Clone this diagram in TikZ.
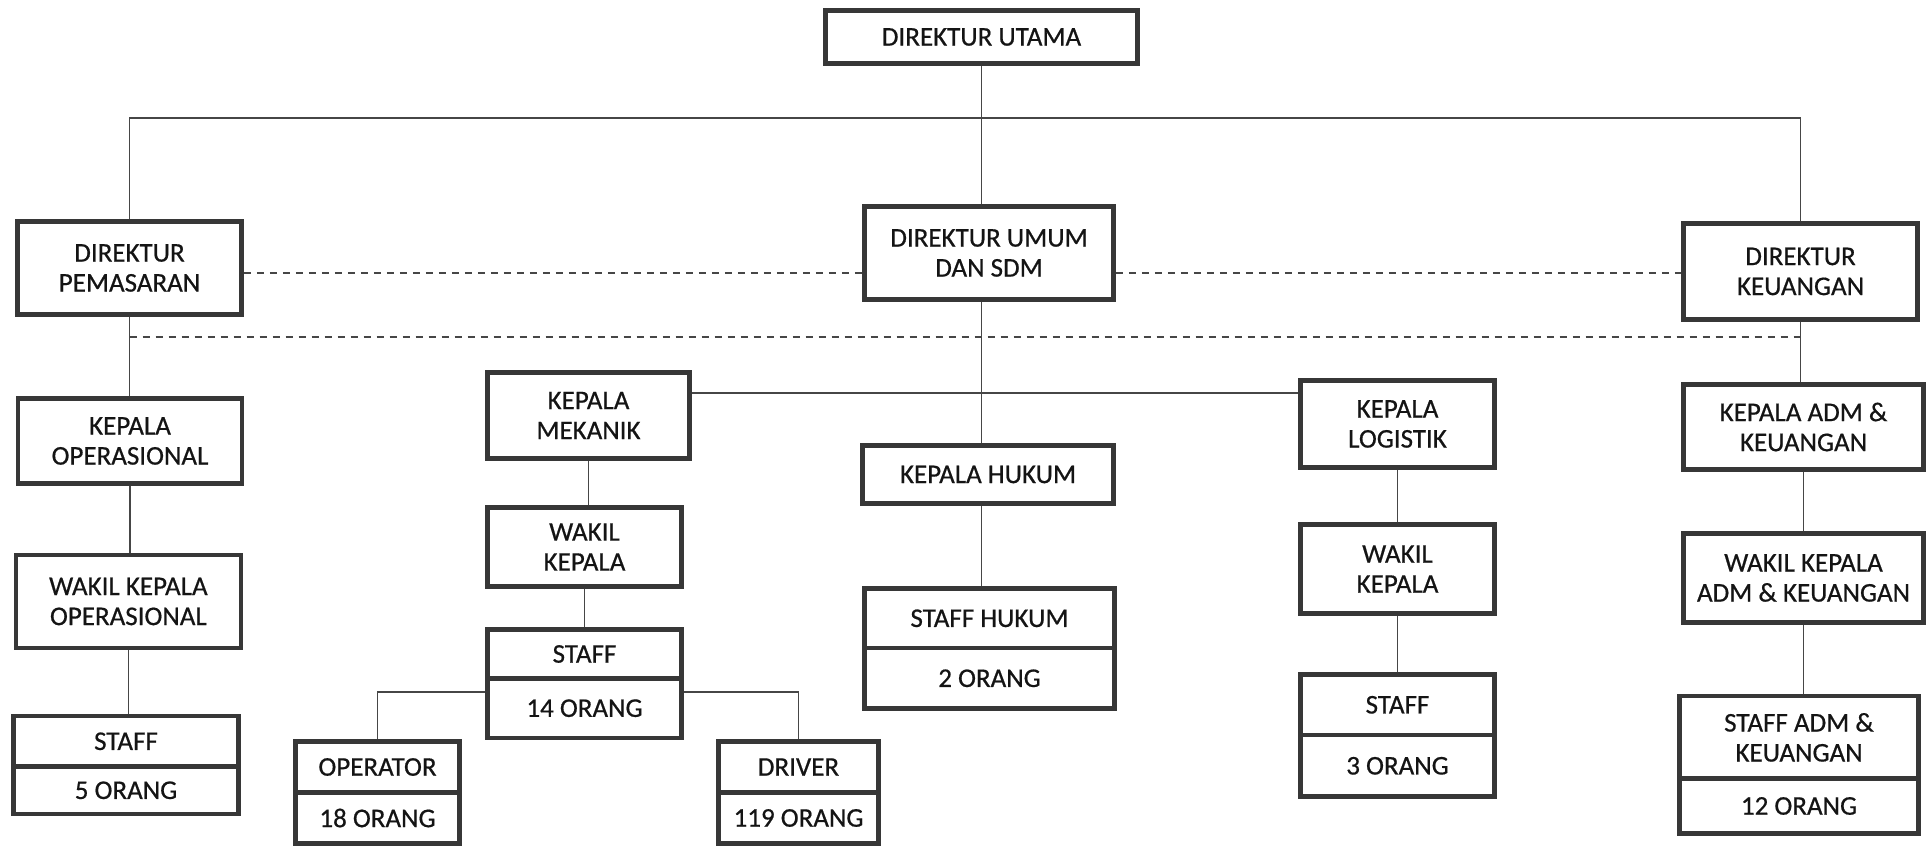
\documentclass[tikz,border=0pt]{standalone}
\usepackage{fontspec}
\setmainfont{Carlito}
\newfontfamily\boxfont{Carlito}[FakeBold=0.6]
\definecolor{bordercol}{RGB}{55,55,55}
\definecolor{linecol}{RGB}{70,70,70}
\definecolor{txtcol}{RGB}{20,20,20}
\tikzset{
  box/.style={draw=bordercol, line width=2.4pt, fill=white, align=center, inner sep=0pt,
    text=txtcol, font=\boxfont\fontsize{13.5}{15}\selectfont},
  conn/.style={line width=0.8pt, draw=linecol},
  dashline/.style={line width=0.8pt, draw=linecol, dash pattern=on 3.5pt off 3pt}
}
\begin{document}
\begin{tikzpicture}[x=0.5pt,y=-0.5pt]
\useasboundingbox (0,0) rectangle (1932,846);
% top level
\node[box, minimum width=156pt, minimum height=26.5pt] (utama) at (981.5,37) {DIREKTUR UTAMA};
\node[box, minimum width=112pt, minimum height=46.5pt] (pemasaran) at (129.5,268) {DIREKTUR\\PEMASARAN};
\node[box, minimum width=124.5pt, minimum height=46.5pt] (umum) at (989,253) {DIREKTUR UMUM\\DAN SDM};
\node[box, minimum width=117pt, minimum height=48pt] (keuangan) at (1800.5,271.5) {DIREKTUR\\KEUANGAN};
% left column
\node[box, minimum width=112pt, minimum height=42.5pt] (kop) at (130,441) {KEPALA\\OPERASIONAL};
\node[box, minimum width=112.5pt, minimum height=46.5pt] (wkop) at (128.4,601.5) {WAKIL KEPALA\\OPERASIONAL};
\node[box, minimum width=112.5pt, minimum height=25.3pt] (staff5) at (126,741.3) {STAFF};
\node[box, minimum width=112.5pt, minimum height=23.7pt] (staff5n) at (126,790.3) {5 ORANG};
% mekanik
\node[box, minimum width=101pt, minimum height=43pt] (kmek) at (588.5,415.5) {KEPALA\\MEKANIK};
\node[box, minimum width=97pt, minimum height=39.5pt] (wmek) at (584.5,547) {WAKIL\\KEPALA};
\node[box, minimum width=97pt, minimum height=24.5pt] (staff14) at (584.5,654) {STAFF};
\node[box, minimum width=97pt, minimum height=29.75pt] (staff14n) at (584.5,708.2) {14 ORANG};
\node[box, minimum width=82pt, minimum height=25.6pt] (operator) at (377.5,767) {OPERATOR};
\node[box, minimum width=82pt, minimum height=25.4pt] (operatorn) at (377.5,818) {18 ORANG};
\node[box, minimum width=80pt, minimum height=25.6pt] (driver) at (798.5,767) {DRIVER};
\node[box, minimum width=80pt, minimum height=25.4pt] (drivern) at (798.5,818) {119 ORANG};
% hukum
\node[box, minimum width=125.5pt, minimum height=29pt] (khukum) at (988,474.5) {KEPALA HUKUM};
\node[box, minimum width=125pt, minimum height=29.75pt] (shukum) at (989.5,618.3) {STAFF HUKUM};
\node[box, minimum width=125pt, minimum height=30.25pt] (shukumn) at (989.5,678.3) {2 ORANG};
% logistik
\node[box, minimum width=97pt, minimum height=43.5pt] (klog) at (1397.5,424) {KEPALA\\LOGISTIK};
\node[box, minimum width=97pt, minimum height=44.5pt] (wlog) at (1397.5,569) {WAKIL\\KEPALA};
\node[box, minimum width=97pt, minimum height=30.25pt] (stafflog) at (1397.5,704.8) {STAFF};
\node[box, minimum width=97pt, minimum height=30.75pt] (stafflogn) at (1397.5,765.8) {3 ORANG};
% adm
\node[box, minimum width=120pt, minimum height=42.25pt] (kadm) at (1803.5,427) {KEPALA ADM \&\\KEUANGAN};
\node[box, minimum width=120pt, minimum height=44.25pt] (wadm) at (1803.5,578) {WAKIL KEPALA\\ADM \& KEUANGAN};
\node[box, minimum width=119.5pt, minimum height=41.35pt] (staffadm) at (1799,737.4) {STAFF ADM \&\\KEUANGAN};
\node[box, minimum width=119.5pt, minimum height=27.4pt] (staffadmn) at (1799,806) {12 ORANG};
% helper coordinates
\coordinate (hl) at (0,118);
\coordinate (d1) at (0,273);
\coordinate (d2) at (0,337);
\coordinate (h2) at (0,393);
\coordinate (h3) at (0,692);
% connectors
\draw[conn] (utama.south) -- (utama.south |- umum.north);
\draw[conn] (pemasaran.north) -- (pemasaran.north |- hl) -- (keuangan.north |- hl) -- (keuangan.north);
\draw[dashline] (pemasaran.east |- d1) -- (umum.west |- d1);
\draw[dashline] (umum.east |- d1) -- (keuangan.west |- d1);
\draw[dashline] (pemasaran.south |- d2) -- (keuangan.south |- d2);
\draw[conn] (pemasaran.south) -- (pemasaran.south |- kop.north);
\draw[conn] (kop.south) -- (kop.south |- wkop.north);
\draw[conn] (wkop.south) -- (wkop.south |- staff5.north);
\draw[conn] (utama.south |- umum.south) -- (utama.south |- khukum.north);
\draw[conn] (utama.south |- khukum.south) -- (utama.south |- shukum.north);
\draw[conn] (kmek.east |- h2) -- (klog.west |- h2);
\draw[conn] (kmek.south) -- (kmek.south |- wmek.north);
\draw[conn] (wmek.south) -- (wmek.south |- staff14.north);
\draw[conn] (staff14n.west |- h3) -| (operator.north);
\draw[conn] (staff14n.east |- h3) -| (driver.north);
\draw[conn] (klog.south) -- (klog.south |- wlog.north);
\draw[conn] (wlog.south) -- (wlog.south |- stafflog.north);
\draw[conn] (keuangan.south) -- (keuangan.south |- kadm.north);
\draw[conn] (kadm.south) -- (kadm.south |- wadm.north);
\draw[conn] (wadm.south) -- (wadm.south |- staffadm.north);
\end{tikzpicture}
\end{document}
